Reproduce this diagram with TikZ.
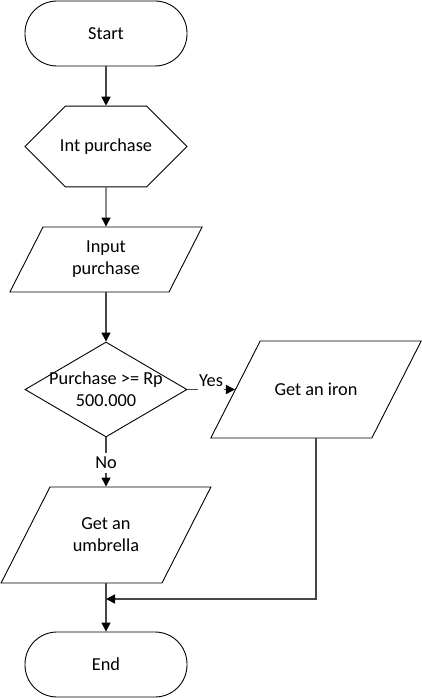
\documentclass[tikz,border=0pt]{standalone}
\usepackage{fontspec}
\setmainfont{Carlito}
\usetikzlibrary{shapes.geometric,shapes.misc,arrows.meta}
\begin{document}
\begin{tikzpicture}[x=1pt,y=-1pt]
    \tikzstyle{terminal}=[draw=black, line width=0.9pt, rounded corners=32pt, minimum width=162pt, minimum height=65pt, font=\fontsize{18.3}{22}\selectfont]
    \tikzstyle{prep}=[chamfered rectangle, chamfered rectangle xsep=25pt, chamfered rectangle ysep=32.5pt, draw=black, line width=0.9pt, inner sep=0pt, minimum width=162pt, minimum height=65pt, font=\fontsize{18.3}{22}\selectfont]
    \tikzstyle{io}=[trapezium, trapezium left angle=63, trapezium right angle=117, draw=black, line width=0.9pt]
    \tikzstyle{decision}=[diamond, draw=black, line width=0.9pt, inner sep=0pt, minimum width=162pt, minimum height=95pt]
    \tikzstyle{txt}=[align=center, font=\fontsize{18.3}{22}\selectfont]
    \tikzstyle{flow}=[draw=black!72, line width=1.4pt, -{Triangle[length=9pt,width=9pt,color=black]}]
    \tikzstyle{lbl}=[fill=white, inner sep=4pt, font=\fontsize{18.3}{22}\selectfont]
    \useasboundingbox (0,0) rectangle (422,698);
    \node[terminal] (start) at (106,33.5){Start};
    \node[prep] (init) at (106,146.5){Int purchase};
    \node[io, inner xsep=63pt, inner ysep=32.5pt] (input) at (106,259.5){};
    \node[txt] (inputtxt) at (input){Input\\purchase};
    \node[decision] (dec) at (106,389.5){};
    \node[txt] (dectxt) at (dec){Purchase >= Rp\\500.000};
    \node[io, inner xsep=55.8pt, inner ysep=48.5pt] (iron) at (316,389.5){};
    \node[txt] (irontxt) at (iron){Get an iron};
    \node[io, inner xsep=56pt, inner ysep=48pt] (umbr) at (106,535){};
    \node[txt] (umbrtxt) at (umbr){Get an\\umbrella};
    \node[terminal] (end) at (106,664.5){End};
    \coordinate (join) at (106,599);
    \draw[flow] (start) -- (init);
    \draw[flow] (init) -- (input);
    \draw[flow] (input) -- (dec);
    \draw[flow] (dec.east) -- (iron.west);
    \draw[flow] (dec.south) -- (umbr.north);
    \draw[flow] (umbr.south) -- (end.north);
    \draw[flow] (iron.south) |- (join);
    \node[lbl, inner xsep=1pt] (yes) at (211,381){Yes};
    \node[lbl, inner xsep=2pt] (no) at (106,463){No};
  \end{tikzpicture}
\end{document}
